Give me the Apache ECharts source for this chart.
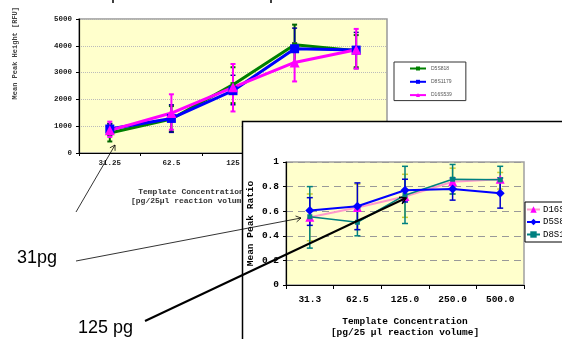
<!DOCTYPE html>
<html><head><meta charset="utf-8">
<script src="https://cdn.jsdelivr.net/npm/echarts@6/dist/echarts.min.js"></script>
<style>html,body{margin:0;padding:0;background:#fff}#c{width:562px;height:339px}</style>
</head><body><div id="c"></div>
<script>
// ---------- Top chart (Mean Peak Height) ----------
const topCategories = ['31.25', '62.5', '125', '250', '500'];
const topYTicks = [0, 1000, 2000, 3000, 4000, 5000];
const topD5S818 = [745, 1270, 2550, 4040, 3820];
const topD5S818Low = [430, 800, 1860, 3300, 3200];
const topD5S818High = [1080, 1750, 3200, 4790, 4400];
const topD8S1179 = [895, 1290, 2325, 3890, 3840];
const topD8S1179Low = [650, 770, 1800, 3350, 3150];
const topD8S1179High = [1100, 1800, 2900, 4660, 4500];
const topD16S539 = [845, 1490, 2450, 3380, 3850];
const topD16S539Low = [600, 870, 1550, 2670, 3150];
const topD16S539High = [1170, 2190, 3320, 4100, 4630];

// ---------- Bottom chart (Mean Peak Ratio) ----------
const botCategories = ['31.3', '62.5', '125.0', '250.0', '500.0'];
const botYTicks = [0, 0.2, 0.4, 0.6, 0.8, 1];
const botD16S539 = [0.55, 0.63, 0.72, 0.84, 0.86];
const botD16S539Low = [0.36, 0.45, 0.55, 0.74, 0.78];
const botD16S539High = [0.74, 0.82, 0.90, 0.95, 0.915];
const botD5S818 = [0.605, 0.64, 0.77, 0.78, 0.745];
const botD5S818Low = [0.485, 0.45, 0.675, 0.69, 0.625];
const botD5S818High = [0.71, 0.83, 0.86, 0.87, 0.87];
const botD8S1179 = [0.555, 0.51, 0.73, 0.86, 0.855];
const botD8S1179Low = [0.30, 0.40, 0.50, 0.74, 0.74];
const botD8S1179High = [0.80, 0.62, 0.965, 0.98, 0.965];

const MONO = '"Liberation Mono", "DejaVu Sans Mono", monospace';
const SANS = '"Liberation Sans", Arial, sans-serif';

function errData(low, high) { return low.map((l, i) => [i, l, high[i]]); }
function errRender(color, cap, lw) {
  return function (params, api) {
    const i = api.value(0);
    const lo = api.coord([i, api.value(1)]);
    const hi = api.coord([i, api.value(2)]);
    const style = { stroke: color, lineWidth: lw };
    return { type: 'group', children: [
      { type: 'line', shape: { x1: lo[0], y1: lo[1], x2: hi[0], y2: hi[1] }, style: style },
      { type: 'line', shape: { x1: lo[0] - cap, y1: lo[1], x2: lo[0] + cap, y2: lo[1] }, style: style },
      { type: 'line', shape: { x1: hi[0] - cap, y1: hi[1], x2: hi[0] + cap, y2: hi[1] }, style: style }
    ]};
  };
}
function errSeries(name, low, high, color, xi, z, cap, lw) {
  return { type: 'custom', name: name, xAxisIndex: xi, yAxisIndex: xi, z: z,
    renderItem: errRender(color, cap, lw), data: errData(low, high),
    encode: { x: 0, y: [1, 2] }, silent: true };
}
function arrowHead(x1, y1, x2, y2, size, z, w) {
  const dx = x2 - x1, dy = y2 - y1, L = Math.hypot(dx, dy);
  const ux = dx / L, uy = dy / L, px = -uy, py = ux;
  return { type: 'polyline', z: z, shape: { points: [
    [x2 - size * ux + size * 0.6 * px, y2 - size * uy + size * 0.6 * py],
    [x2, y2],
    [x2 - size * ux - size * 0.6 * px, y2 - size * uy - size * 0.6 * py]] },
    style: { stroke: '#000', lineWidth: w, fill: null } };
}

const chart = echarts.init(document.getElementById('c'), null, { renderer: 'canvas' });
chart.setOption({
  animation: false,
  backgroundColor: '#fff',
  grid: [
    { left: 79, top: 19, width: 308, height: 134, show: true, backgroundColor: '#FFFFCC',
      borderColor: '#999', borderWidth: 1.5, z: 0 },
    { left: 286, top: 162, width: 238, height: 123, show: true, backgroundColor: '#FFFFCC',
      borderColor: '#a0a0a0', borderWidth: 1.5, z: 6 }
  ],
  xAxis: [
    { type: 'category', gridIndex: 0, data: topCategories, z: 1,
      axisLine: { lineStyle: { color: '#000', width: 1.2 } },
      axisTick: { show: true, length: 3, lineStyle: { color: '#000' } },
      axisLabel: { fontSize: 7.5, fontFamily: MONO, fontWeight: 'bold', color: '#222', margin: 6 } },
    { type: 'category', gridIndex: 1, data: botCategories, z: 7,
      axisLine: { lineStyle: { color: '#000', width: 1.2 } },
      axisTick: { show: true, length: 4, lineStyle: { color: '#000' } },
      axisLabel: { fontSize: 9.5, fontFamily: MONO, fontWeight: 'bold', color: '#000', margin: 10 },
      name: 'Template Concentration\n[pg/25 \u00b5l reaction volume]', nameLocation: 'middle', nameGap: 31,
      nameTextStyle: { fontSize: 9.5, fontFamily: MONO, fontWeight: 'bold', color: '#000', lineHeight: 11 } }
  ],
  yAxis: [
    { type: 'value', gridIndex: 0, min: topYTicks[0], max: topYTicks[topYTicks.length - 1],
      interval: topYTicks[1] - topYTicks[0], z: 1,
      axisLine: { show: true, lineStyle: { color: '#000', width: 1.2 } },
      axisTick: { show: true, length: 3, lineStyle: { color: '#000' } },
      splitLine: { show: true, lineStyle: { color: '#bbb', type: 'dotted', width: 1 } },
      axisLabel: { fontSize: 7.5, fontFamily: MONO, fontWeight: 'bold', color: '#222', margin: 7,
        formatter: v => String(v) } },
    { type: 'value', gridIndex: 1, min: botYTicks[0], max: botYTicks[botYTicks.length - 1],
      interval: 0.2, z: 7,
      axisLine: { show: true, lineStyle: { color: '#000', width: 1.2 } },
      axisTick: { show: true, length: 3, lineStyle: { color: '#000' } },
      splitLine: { show: true, lineStyle: { color: '#999', type: [7, 5], width: 1 } },
      axisLabel: { fontSize: 9.5, fontFamily: MONO, fontWeight: 'bold', color: '#000', margin: 7,
        formatter: v => (v === 0 ? '0' : v === 1 ? '1' : v.toFixed(1)) },
      name: 'Mean Peak Ratio', nameLocation: 'middle', nameGap: 30,
      nameTextStyle: { fontSize: 9.5, fontFamily: MONO, fontWeight: 'bold', color: '#000' } }
  ],
  legend: [
    { data: ['D5S818', 'D8S1179', 'D16S539'], orient: 'vertical', left: 394, top: 62, z: 4,
      padding: [4, 14, 3, 15], itemWidth: 16, itemHeight: 5, itemGap: 8.3,
      borderColor: '#333', borderWidth: 1, backgroundColor: '#fff',
      textStyle: { fontSize: 5, fontFamily: SANS, color: '#555' } },
    { data: ['D16S539 ', 'D5S818 ', 'D8S1179 '], orient: 'vertical', left: 525, top: 202, z: 9,
      padding: [3, 4, 3, 1], itemWidth: 13, itemHeight: 8, itemGap: 3.5,
      borderColor: '#000', borderWidth: 1, backgroundColor: '#fff',
      textStyle: { fontSize: 9, fontFamily: MONO, color: '#000', padding: [0, 0, 0, -2] } }
  ],
  series: [
    // top chart
    errSeries('e1', topD5S818Low, topD5S818High, '#006600', 0, 2, 2.5, 2),
    { type: 'line', name: 'D5S818', xAxisIndex: 0, yAxisIndex: 0, z: 2, data: topD5S818,
      symbol: 'rect', symbolSize: 5, lineStyle: { color: '#008000', width: 3 }, itemStyle: { color: '#008000' } },
    errSeries('e2', topD8S1179Low, topD8S1179High, '#000099', 0, 2, 2.5, 1.5),
    { type: 'line', name: 'D8S1179', xAxisIndex: 0, yAxisIndex: 0, z: 2, data: topD8S1179,
      symbol: 'rect', symbolSize: 9, lineStyle: { color: '#0000FF', width: 3 }, itemStyle: { color: '#0000FF' } },
    errSeries('e3', topD16S539Low, topD16S539High, '#FF00FF', 0, 2, 2.5, 2),
    { type: 'line', name: 'D16S539', xAxisIndex: 0, yAxisIndex: 0, z: 2, data: topD16S539,
      symbol: 'triangle', symbolSize: 10, lineStyle: { color: '#FF00FF', width: 3 }, itemStyle: { color: '#FF00FF' } },
    // bottom chart
    errSeries('e4', botD16S539Low, botD16S539High, '#CCCC33', 1, 8, 3, 1.5),
    errSeries('e5', botD8S1179Low, botD8S1179High, '#008080', 1, 8, 3, 1.5),
    errSeries('e6', botD5S818Low, botD5S818High, '#0000CC', 1, 8, 3, 1.5),
    { type: 'line', name: 'D16S539 ', xAxisIndex: 1, yAxisIndex: 1, z: 8, data: botD16S539,
      symbol: 'triangle', symbolSize: 9, lineStyle: { color: '#FF99CC', width: 2 }, itemStyle: { color: '#FF00FF' } },
    { type: 'line', name: 'D8S1179 ', xAxisIndex: 1, yAxisIndex: 1, z: 8, data: botD8S1179,
      symbol: 'rect', symbolSize: 5, lineStyle: { color: '#008080', width: 1.5 }, itemStyle: { color: '#008080' } },
    { type: 'line', name: 'D5S818 ', xAxisIndex: 1, yAxisIndex: 1, z: 8, data: botD5S818,
      symbol: 'diamond', symbolSize: 9, lineStyle: { color: '#0000FF', width: 2 }, itemStyle: { color: '#0000FF' } }
  ],
  graphic: [
    { type: 'text', z: 3, left: 12, top: 7, rotation: Math.PI / 2,
      style: { text: 'Mean Peak Height [RFU]', fontSize: 7, fontFamily: MONO, fontWeight: 'bold', fill: '#444' } },
    { type: 'text', z: 3, x: 191, y: 187,
      style: { text: 'Template Concentration\n[pg/25\u00b5l reaction volume]', fontSize: 8, lineHeight: 9.5,
        fontFamily: MONO, fontWeight: 'bold', fill: '#333', align: 'center' } },
    { type: 'rect', z: 5, shape: { x: 242.5, y: 121.5, width: 360, height: 260 },
      style: { fill: '#fff', stroke: '#000', lineWidth: 1.5 } },
    { type: 'line', z: 20, shape: { x1: 113, y1: 0, x2: 113, y2: 3 }, style: { stroke: '#000', lineWidth: 1.5 } },
    { type: 'line', z: 20, shape: { x1: 271, y1: 0, x2: 271, y2: 3 }, style: { stroke: '#000', lineWidth: 1.5 } },
    { type: 'text', z: 20, x: 17, y: 249, style: { text: '31pg', fontSize: 18, fontFamily: SANS, fill: '#000' } },
    { type: 'text', z: 20, x: 78, y: 319, style: { text: '125 pg', fontSize: 18, fontFamily: SANS, fill: '#000' } },
    { type: 'line', z: 20, shape: { x1: 76, y1: 212, x2: 115, y2: 145 }, style: { stroke: '#000', lineWidth: 0.8 } },
    arrowHead(76, 212, 115, 145, 5, 20, 0.8),
    { type: 'line', z: 20, shape: { x1: 76, y1: 261, x2: 301, y2: 218 }, style: { stroke: '#000', lineWidth: 0.8 } },
    arrowHead(76, 261, 301, 218, 5, 20, 0.8),
    { type: 'line', z: 20, shape: { x1: 145, y1: 321, x2: 406, y2: 198 }, style: { stroke: '#000', lineWidth: 2 } },
    arrowHead(145, 321, 406, 198, 6, 20, 1.5)
  ]
});
</script></body></html>
